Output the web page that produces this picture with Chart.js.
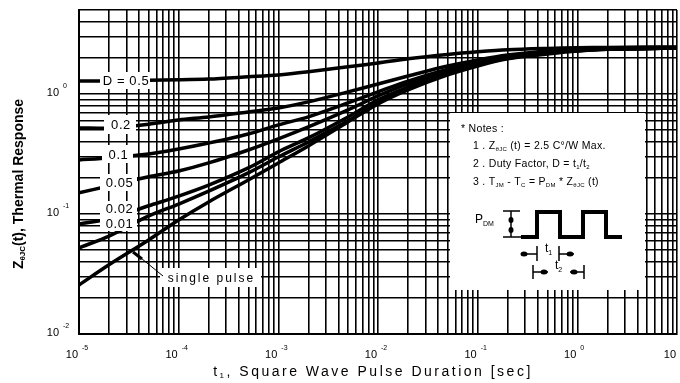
<!DOCTYPE html>
<html>
<head>
<meta charset="utf-8">
<script src="https://cdn.jsdelivr.net/npm/chart.js"></script>
<style>
  html, body { margin: 0; padding: 0; background: #fff; }
</style>
</head>
<body>
<canvas id="thermChart" width="680" height="383"></canvas>
<script>
// pulse duration t1 [sec]
const times = [1e-5, 2e-5, 5e-5, 1e-4, 2e-4, 5e-4, 1e-3, 2e-3, 5e-3, 1e-2, 2e-2, 5e-2, 0.1, 0.2, 0.5, 1, 2, 5, 10];

// Z thJC(t) for each duty factor
const duty050 = [1.28, 1.28, 1.30, 1.31, 1.33, 1.39, 1.44, 1.53, 1.68, 1.81, 1.96, 2.13, 2.24, 2.33, 2.39, 2.42, 2.44, 2.46, 2.46];
const duty020 = [0.52, 0.52, 0.56, 0.607, 0.643, 0.708, 0.764, 0.858, 1.04, 1.21, 1.41, 1.71, 1.92, 2.11, 2.28, 2.35, 2.39, 2.42, 2.44];
const duty010 = [0.282, 0.293, 0.316, 0.348, 0.39, 0.464, 0.552, 0.643, 0.841, 1.04, 1.28, 1.61, 1.85, 2.07, 2.24, 2.33, 2.37, 2.39, 2.42];
const duty005 = [0.15, 0.171, 0.204, 0.228, 0.266, 0.341, 0.422, 0.531, 0.736, 0.962, 1.21, 1.55, 1.81, 2.03, 2.22, 2.31, 2.37, 2.39, 2.42];
const duty002 = [0.0825, 0.091, 0.117, 0.141, 0.174, 0.242, 0.329, 0.43, 0.643, 0.891, 1.14, 1.5, 1.78, 1.99, 2.2, 2.31, 2.37, 2.39, 2.42];
const duty001 = [0.0522, 0.0654, 0.0963, 0.121, 0.155, 0.22, 0.298, 0.398, 0.596, 0.841, 1.1, 1.47, 1.74, 1.98, 2.2, 2.28, 2.35, 2.39, 2.42];
const singlePulse = [0.0256, 0.0377, 0.0607, 0.0891, 0.126, 0.192, 0.266, 0.369, 0.584, 0.825, 1.08, 1.44, 1.71, 1.96, 2.15, 2.28, 2.35, 2.39, 2.42];

const curveNames = ['D = 0.5', '0.2', '0.1', '0.05', '0.02', '0.01', 'single pulse'];
const xExponents = [-5, -4, -3, -2, -1, 0, 1];
const yExponents = [-2, -1, 0];

// grid lines at 1..9 of every decade
const xGrid = [];
xExponents.slice(0, -1).forEach(e => { for (let s = 1; s < 10; s++) xGrid.push(s * Math.pow(10, e)); });
xGrid.push(10);
const yGrid = [];
yExponents.forEach(e => { for (let s = 1; s < 10; s++) yGrid.push(s * Math.pow(10, e)); });
const yTop = 5;
const yGridAll = yGrid.filter(v => v <= yTop);

const FONT = '"Liberation Sans", Arial, sans-serif';

function drawRich(ctx, x, y, parts, size, weight) {
    let cx = x;
    parts.forEach(([txt, kind]) => {
        const s = kind === 'n' ? size : Math.round(size * 0.6);
        const dy = kind === 'sub' ? size * 0.3 : (kind === 'sup' ? -size * 0.45 : 0);
        ctx.font = (weight || '') + ' ' + s + 'px ' + FONT;
        ctx.fillText(txt, cx, y + dy);
        cx += ctx.measureText(txt).width;
    });
    return cx - x;
}

function richWidth(ctx, parts, size, weight) {
    let w = 0;
    parts.forEach(([txt, kind]) => {
        const s = kind === 'n' ? size : Math.round(size * 0.6);
        ctx.font = (weight || '') + ' ' + s + 'px ' + FONT;
        w += ctx.measureText(txt).width;
    });
    return w;
}

// label boxes: [name index, box x0, y0, x1, y1]
const labelBoxes = [
    [0, 100, 72, 150, 89],
    [1, 104, 115, 136, 134],
    [2, 102, 145, 133, 163],
    [3, 100, 174, 137, 191],
    [4, 100, 201, 137, 216],
    [5, 100, 216, 137, 231],
    [6, 160, 268, 261, 287]
];

const decorations = {
    id: 'decorations',
    afterDraw(chart) {
        const ctx = chart.ctx;
        const xs = chart.scales.x, ys = chart.scales.y;
        ctx.save();
        ctx.fillStyle = '#000';
        ctx.strokeStyle = '#000';

        // white label boxes with curve names
        labelBoxes.forEach(([i, x0, y0, x1, y1]) => {
            ctx.fillStyle = '#fff';
            ctx.fillRect(x0, y0, x1 - x0, y1 - y0);
            ctx.fillStyle = '#000';
            ctx.textBaseline = 'middle';
            ctx.textAlign = 'center';
            if (i === 6) {
                ctx.letterSpacing = '2px';
                ctx.font = '12px ' + FONT;
            } else {
                ctx.letterSpacing = '0.6px';
                ctx.font = '13px ' + FONT;
            }
            ctx.fillText(curveNames[i], (x0 + x1) / 2 + 1, (y0 + y1) / 2 + 1);
        });
        ctx.letterSpacing = '0px';

        // pointer to single pulse curve
        ctx.lineWidth = 1;
        ctx.beginPath();
        ctx.moveTo(136, 254);
        ctx.lineTo(163, 276);
        ctx.stroke();
        ctx.lineWidth = 3;
        ctx.beginPath();
        ctx.moveTo(133, 252);
        ctx.lineTo(142, 259);
        ctx.stroke();

        // notes box
        ctx.fillStyle = '#fff';
        ctx.fillRect(450, 113, 195, 177);
        ctx.fillStyle = '#000';
        ctx.textAlign = 'left';
        ctx.textBaseline = 'middle';
        ctx.letterSpacing = '0.3px';
        drawRich(ctx, 461, 129, [['* Notes :', 'n']], 10.5);
        drawRich(ctx, 473, 146, [['1 . Z', 'n'], ['θJC', 'sub'], [' (t) = 2.5 C°/W Max.', 'n']], 10.5);
        drawRich(ctx, 473, 164, [['2 . Duty Factor, D = t', 'n'], ['1', 'sub'], ['/t', 'n'], ['2', 'sub']], 10.5);
        drawRich(ctx, 473, 182, [['3 . T', 'n'], ['JM', 'sub'], [' - T', 'n'], ['C', 'sub'], [' = P', 'n'], ['DM', 'sub'], [' * Z', 'n'], ['θJC', 'sub'], [' (t)', 'n']], 10.5);
        ctx.letterSpacing = '0px';

        // pulse diagram
        drawRich(ctx, 475, 220, [['P', 'n'], ['DM', 'sub']], 12);
        ctx.lineWidth = 4;
        ctx.lineJoin = 'miter';
        ctx.beginPath();
        ctx.moveTo(521, 237);
        ctx.lineTo(537, 237); ctx.lineTo(537, 212); ctx.lineTo(560, 212); ctx.lineTo(560, 237);
        ctx.lineTo(583, 237); ctx.lineTo(583, 212); ctx.lineTo(606, 212); ctx.lineTo(606, 237);
        ctx.lineTo(622, 237);
        ctx.stroke();
        ctx.lineWidth = 1.5;
        ctx.beginPath();
        ctx.moveTo(503, 237); ctx.lineTo(522, 237);
        ctx.moveTo(503, 211); ctx.lineTo(520, 211);
        ctx.moveTo(511, 211); ctx.lineTo(511, 237);
        ctx.stroke();
        const blob = (x, y, rx, ry) => { ctx.beginPath(); ctx.ellipse(x, y, rx, ry, 0, 0, Math.PI * 2); ctx.fill(); };
        blob(511, 220, 2.5, 3);
        blob(511, 230, 2.5, 3);
        // t1 / t2 markers
        ctx.lineWidth = 1.5;
        ctx.beginPath();
        ctx.moveTo(537, 246); ctx.lineTo(537, 261);
        ctx.moveTo(559, 246); ctx.lineTo(559, 261);
        ctx.moveTo(521, 254); ctx.lineTo(537, 254);
        ctx.moveTo(559, 254); ctx.lineTo(574, 254);
        ctx.moveTo(533, 265); ctx.lineTo(533, 279);
        ctx.moveTo(584, 265); ctx.lineTo(584, 279);
        ctx.moveTo(533, 272); ctx.lineTo(548, 272);
        ctx.moveTo(570, 272); ctx.lineTo(584, 272);
        ctx.stroke();
        blob(524, 254, 3.5, 2.5);
        blob(570, 254, 3.5, 2.5);
        blob(544, 272, 3.5, 2.5);
        blob(574, 272, 3.5, 2.5);
        drawRich(ctx, 545, 249, [['t', 'n'], ['1', 'sub']], 12);
        drawRich(ctx, 555, 266, [['t', 'n'], ['2', 'sub']], 12);

        // tick labels 10^n from the library scales
        ctx.textBaseline = 'middle';
        xExponents.forEach(e => {
            const px = xs.getPixelForValue(Math.pow(10, e));
            ctx.font = '11px ' + FONT;
            ctx.textAlign = 'right';
            ctx.fillText('10', px - 1, 355);
            ctx.font = '7px ' + FONT;
            ctx.textAlign = 'left';
            ctx.fillText(String(e), px + 3, 348);
        });
        yExponents.forEach(e => {
            const py = ys.getPixelForValue(Math.pow(10, e));
            ctx.font = '11px ' + FONT;
            ctx.textAlign = 'right';
            ctx.fillText('10', 59, py - 1);
            ctx.font = '7px ' + FONT;
            ctx.textAlign = 'left';
            ctx.fillText(String(e), 63, py - 8);
        });

        // x axis title
        ctx.textAlign = 'left';
        ctx.letterSpacing = '2.5px';
        const xParts = [['t', 'n'], ['1', 'sub'], [', Square Wave Pulse Duration [sec]', 'n']];
        const xw = richWidth(ctx, xParts, 14);
        drawRich(ctx, 373 - xw / 2, 372, xParts, 14);
        ctx.letterSpacing = '0px';

        // y axis title
        ctx.save();
        ctx.translate(19, 184);
        ctx.rotate(-Math.PI / 2);
        const yParts = [['Z', 'n'], ['θJC', 'sub'], ['(t), Thermal Response', 'n']];
        const yw = richWidth(ctx, yParts, 14, 'bold');
        drawRich(ctx, -yw / 2, 0, yParts, 14, 'bold');
        ctx.restore();

        ctx.restore();
    }
};

const seriesList = [duty050, duty020, duty010, duty005, duty002, duty001, singlePulse];

const config = {
    type: 'line',
    data: {
        datasets: seriesList.map((vals, k) => ({
            label: curveNames[k],
            data: times.map((t, i) => ({ x: t, y: vals[i] })),
            borderColor: '#000',
            borderWidth: 3.5,
            pointRadius: 0,
            fill: false,
            tension: 0.3
        }))
    },
    options: {
        responsive: false,
        animation: false,
        layout: { padding: { top: 10, right: 3, left: 0, bottom: 0 } },
        scales: {
            x: {
                type: 'logarithmic',
                min: 1e-5,
                max: 10,
                afterBuildTicks: (scale) => { scale.ticks = xGrid.map(v => ({ value: v })); },
                afterFit: (scale) => { scale.height = 49; },
                grid: { color: '#000', lineWidth: 1.6, drawTicks: false },
                border: { color: '#000', width: 2 },
                ticks: { display: false }
            },
            y: {
                type: 'logarithmic',
                min: 0.01,
                max: yTop,
                afterBuildTicks: (scale) => { scale.ticks = yGridAll.map(v => ({ value: v })); },
                afterFit: (scale) => { scale.width = 79; },
                grid: { color: '#000', lineWidth: 1.6, drawTicks: false },
                border: { color: '#000', width: 2 },
                ticks: { display: false }
            }
        },
        plugins: {
            legend: { display: false },
            tooltip: { enabled: false }
        }
    },
    plugins: [decorations]
};

const thermChart = new Chart(document.getElementById('thermChart').getContext('2d'), config);
</script>
</body>
</html>
